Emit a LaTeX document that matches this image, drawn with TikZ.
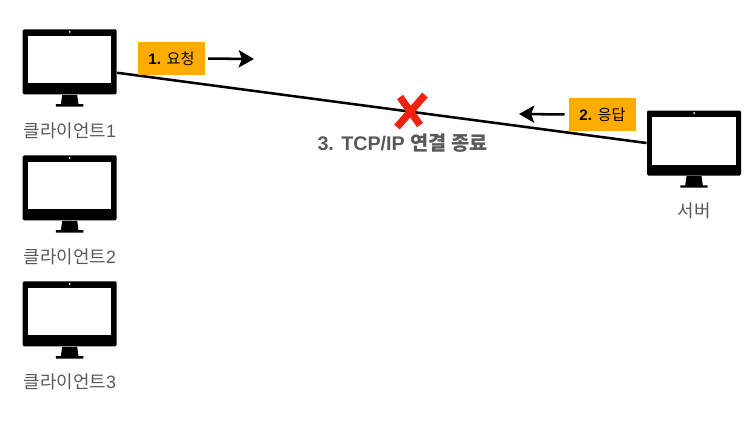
\documentclass[tikz,border=0pt]{standalone}
\usepackage{fontspec}
\setmainfont{Liberation Sans}
\newfontfamily\cjk{Noto Sans CJK KR}
\usetikzlibrary{arrows.meta}

\definecolor{labelgray}{RGB}{89,89,89}
\definecolor{tagorange}{RGB}{255,171,0}
\definecolor{crossred}{RGB}{240,35,15}

\tikzset{every picture/.style={line width=0.75pt}}
\tikzset{
  monitor/.style={fill=black,rounded corners=1pt,minimum width=70.5pt,minimum height=48.75pt,inner sep=0pt},
  screen/.style={fill=white,minimum width=62.5pt,minimum height=35.7pt,inner sep=0pt},
  hostname/.style={text=labelgray,font=\fontsize{13.4}{16}\selectfont,inner sep=0pt},
  tag/.style={fill=tagorange,text=black,font=\fontsize{11.4}{13}\selectfont,minimum width=50pt,minimum height=24.75pt,inner sep=0pt},
  sketch/.style={line width=1.9pt,-{Stealth[length=11.5pt,width=13pt,inset=2.5pt]},draw=black}
}

% one screen with its stand, #1 node name, #2 position
\newcommand{\monitorat}[2]{
  \node [monitor] (#1) at #2 {};
  \node [screen] at ([yshift=-1.7pt]#1.center) {};
  \fill [white] ([yshift=2.25pt]#1.north) circle (0.75pt);
  \fill ([xshift=-5.6pt]#1.south) -- ([xshift=5.6pt]#1.south) -- ([xshift=6.6pt,yshift=7pt]#1.south) -- ([xshift=10.3pt,yshift=7pt]#1.south)
    -- ([xshift=10.3pt,yshift=8.8pt]#1.south) -- ([xshift=-10.3pt,yshift=8.8pt]#1.south) -- ([xshift=-10.3pt,yshift=7pt]#1.south) -- ([xshift=-6.6pt,yshift=7pt]#1.south) -- cycle;
}

\begin{document}
\begin{tikzpicture}[x=0.75pt,y=0.75pt,yscale=-1,xscale=1]
\useasboundingbox (0,0) rectangle (750,426);

%monitors
\monitorat{client1}{(69.7,61.8)}
\monitorat{client2}{(69.7,187.8)}
\monitorat{client3}{(69.7,313.8)}
\monitorat{server}{(694,143)}

% Text Node
\node [hostname] (name1) at (70,130.5) {{\cjk 클라이언트}1};
\node [hostname] (name2) at (70,256.5) {{\cjk 클라이언트}2};
\node [hostname] (name3) at (70,381.5) {{\cjk 클라이언트}3};
\node [hostname] (name4) at (694,211) {{\cjk 서버}};

%connection
\draw [line width=1.9pt] (client1.-13) -- (server.west);

%Shape: Cross
\coordinate (crossa) at (425,95);
\coordinate (crossb) at (397,127);
\coordinate (crossc) at (400,97);
\coordinate (crossd) at (420,125);
\draw [crossred,line width=5.5pt] (crossa) -- (crossb);
\draw [crossred,line width=5.5pt] (crossc) -- (crossd);

% Tags
\node [tag] (request) at (171.5,58.5) {\textbf{1.} {\cjk 요청}};
\node [tag] (response) at (602.5,114.5) {\textbf{2.} {\cjk 응답}};

\coordinate (requestend) at (254,59);
\coordinate (responseend) at (519,114);
\draw [sketch,shorten <=2pt] (request.east) -- (requestend);
\draw [sketch,shorten <=3pt] (response.west) -- (responseend);

% Text Node
\node [text=labelgray,font=\bfseries\fontsize{14.8}{17}\selectfont,inner sep=0pt] (closing) at (402.5,143) {3. TCP/IP {\cjk\bfseries 연결 종료}};

\end{tikzpicture}
\end{document}
